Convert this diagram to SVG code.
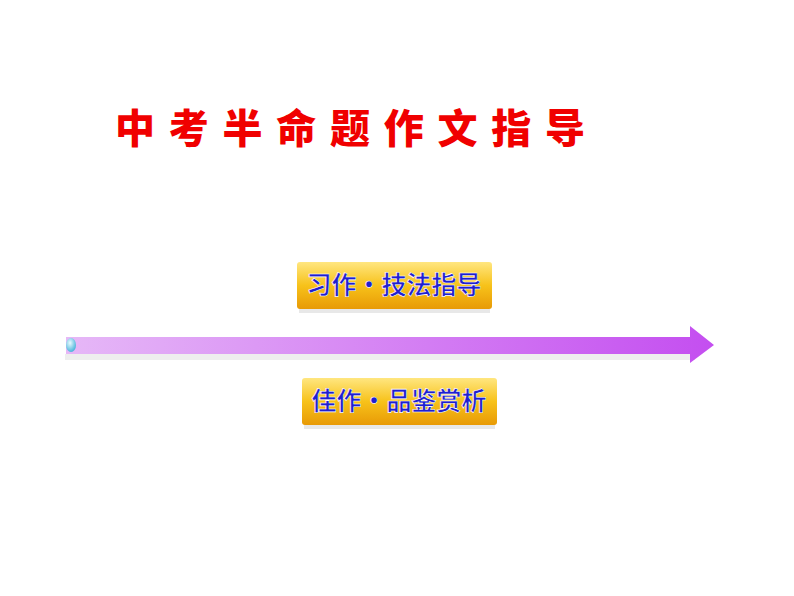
<svg xmlns="http://www.w3.org/2000/svg" width="794" height="596" viewBox="0 0 794 596">
<defs>
<linearGradient id="shaft" x1="0" y1="0" x2="1" y2="0"><stop offset="0" stop-color="#e6b8f7"/><stop offset="1" stop-color="#c44ef0"/></linearGradient>
<linearGradient id="gold" x1="0" y1="0" x2="0" y2="1"><stop offset="0" stop-color="#ffe680"/><stop offset="0.5" stop-color="#f7c21a"/><stop offset="1" stop-color="#e89a06"/></linearGradient>
<radialGradient id="ball" cx="0.4" cy="0.35" r="0.7"><stop offset="0" stop-color="#e8fbff"/><stop offset="1" stop-color="#3fb0d8"/></radialGradient>
</defs>
<style>
.t{font-family:"Noto Sans CJK SC",sans-serif;font-weight:900}
.lbl{font-family:"Noto Sans CJK SC",sans-serif;font-weight:700;font-size:25px;fill:#1f1fd0;stroke:#fff;stroke-width:0.6;text-anchor:middle}
</style>
<rect width="794" height="596" fill="#fff"/>
<text class="t" x="115" y="143" font-size="40" fill="#f00000" textLength="470" lengthAdjust="spacing">中考半命题作文指导</text>
<g id="connectors">
<rect x="65" y="354" width="630" height="6" fill="#eee"/>
<path d="M66 337 H690 V326 L714 345 L690 363 V354 H66 Z" fill="url(#shaft)"/>
<ellipse cx="71" cy="345" rx="5" ry="7" fill="url(#ball)"/>
</g>
<g id="node1">
<rect x="299" y="308" width="191" height="5" fill="#e8e8e8"/>
<rect x="297" y="262" width="195" height="47" rx="3" fill="url(#gold)"/>
<text class="lbl" x="394" y="294">习作・技法指导</text>
</g>
<g id="node2">
<rect x="304" y="424" width="191" height="5" fill="#e8e8e8"/>
<rect x="302" y="378" width="195" height="47" rx="3" fill="url(#gold)"/>
<text class="lbl" x="399" y="410">佳作・品鉴赏析</text>
</g>
</svg>
